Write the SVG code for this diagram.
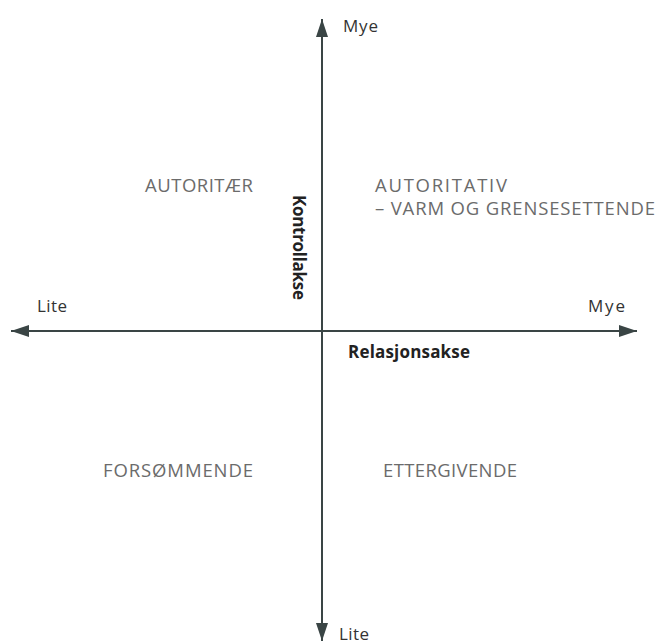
<svg xmlns="http://www.w3.org/2000/svg" width="662" height="644" viewBox="0 0 662 644">
<style>
.q{font-family:"Open Sans","Liberation Sans",sans-serif;font-size:18.5px;fill:#6b6b6b}
.e{font-family:"Open Sans","Liberation Sans",sans-serif;font-size:17px;fill:#333}
.b{font-family:"Open Sans","Liberation Sans",sans-serif;font-size:17px;font-weight:bold;fill:#222}
.ax{stroke:#3a4545;stroke-width:2;fill:none}
</style>
<defs>
<marker id="ah" markerUnits="userSpaceOnUse" markerWidth="20" markerHeight="12" refX="18" refY="6" orient="auto">
<path d="M0,0 L18,6 L0,12 z" fill="#3a4545"/>
</marker>
</defs>
<rect width="662" height="644" fill="#fff"/>
<g id="connectors">
<line class="ax" x1="322" y1="331" x2="322" y2="19" marker-end="url(#ah)"/>
<line class="ax" x1="322" y1="331" x2="322" y2="641" marker-end="url(#ah)"/>
<line class="ax" x1="322" y1="331" x2="11" y2="331" marker-end="url(#ah)"/>
<line class="ax" x1="322" y1="331" x2="637" y2="331" marker-end="url(#ah)"/>
</g>
<g id="label-mye-top"><text class="e" x="343" y="32" textLength="35">Mye</text></g>
<g id="label-lite-bottom"><text class="e" x="339" y="640" textLength="30">Lite</text></g>
<g id="label-lite-left"><text class="e" x="37" y="312" textLength="30">Lite</text></g>
<g id="label-mye-right"><text class="e" x="588" y="312" textLength="37">Mye</text></g>
<g id="axis-kontroll"><text class="b" transform="translate(293,195) rotate(90)" textLength="105">Kontrollakse</text></g>
<g id="axis-relasjon"><text class="b" x="348" y="358" textLength="122">Relasjonsakse</text></g>
<g id="q-autoritaer"><text class="q" x="145" y="192" textLength="108">AUTORITÆR</text></g>
<g id="q-autoritativ">
<text class="q" x="375" y="192" textLength="132">AUTORITATIV</text>
<text class="q" x="375" y="215" textLength="280">– VARM OG GRENSESETTENDE</text>
</g>
<g id="q-forsommende"><text class="q" x="103" y="477" textLength="150">FORSØMMENDE</text></g>
<g id="q-ettergivende"><text class="q" x="383" y="477" textLength="134">ETTERGIVENDE</text></g>
</svg>
